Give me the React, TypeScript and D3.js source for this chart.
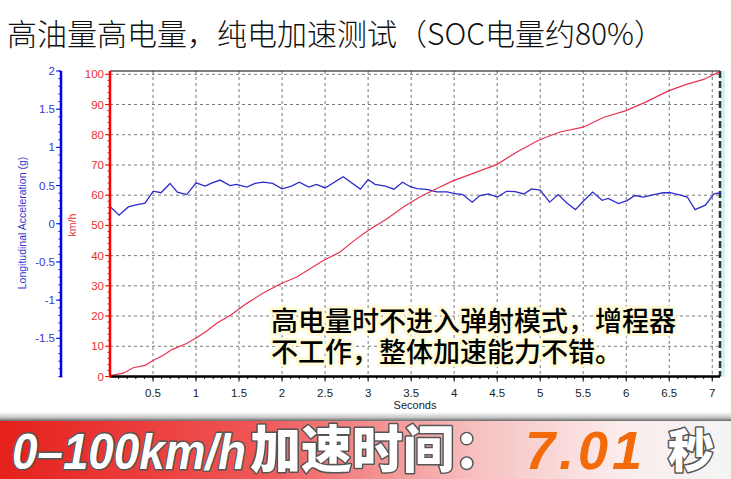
import React from "react";
import * as d3 from "d3";

const speedT = [0, 0.155, 0.27, 0.41, 0.5, 0.62, 0.72, 0.89, 1.01, 1.12, 1.24, 1.4, 1.59, 1.78, 1.98, 2.17, 2.48, 2.67, 2.83, 3.0, 3.22, 3.41, 3.6, 3.8, 3.99, 4.19, 4.5, 4.73, 4.98, 5.23, 5.5, 5.74, 5.99, 6.22, 6.49, 6.69, 6.9, 7.08];
const speedV = [0.3, 1.1, 2.9, 3.7, 5.3, 7.0, 8.9, 10.9, 12.9, 15, 17.6, 20.3, 24.2, 27.6, 30.6, 32.9, 38.4, 41.1, 44.8, 48.3, 52.2, 56.1, 59.4, 62.2, 64.8, 66.9, 70.2, 74.3, 78.2, 80.9, 82.5, 85.8, 87.9, 90.7, 94.5, 96.6, 98.3, 100.8];

const accT = [0, 0.105, 0.213, 0.29, 0.407, 0.503, 0.593, 0.698, 0.783, 0.892, 1.0, 1.105, 1.18, 1.28, 1.395, 1.47, 1.59, 1.686, 1.78, 1.89, 2.0, 2.11, 2.2, 2.31, 2.4, 2.5, 2.71, 2.91, 3.0, 3.08, 3.2, 3.3, 3.4, 3.49, 3.57, 3.68, 3.8, 3.92, 3.99, 4.1, 4.21, 4.3, 4.4, 4.5, 4.61, 4.71, 4.81, 4.9, 5.0, 5.11, 5.21, 5.31, 5.41, 5.5, 5.61, 5.72, 5.79, 5.91, 6.01, 6.1, 6.2, 6.32, 6.43, 6.51, 6.63, 6.71, 6.8, 6.92, 7.02, 7.1];
const accV = [0.227, 0.113, 0.22, 0.243, 0.271, 0.426, 0.406, 0.528, 0.414, 0.382, 0.536, 0.493, 0.532, 0.572, 0.5, 0.516, 0.481, 0.528, 0.544, 0.528, 0.457, 0.493, 0.544, 0.481, 0.516, 0.469, 0.615, 0.453, 0.579, 0.516, 0.493, 0.453, 0.544, 0.485, 0.461, 0.449, 0.418, 0.418, 0.398, 0.382, 0.283, 0.37, 0.39, 0.35, 0.425, 0.421, 0.39, 0.457, 0.441, 0.283, 0.382, 0.271, 0.185, 0.295, 0.414, 0.307, 0.331, 0.264, 0.303, 0.37, 0.35, 0.382, 0.406, 0.406, 0.374, 0.35, 0.185, 0.244, 0.39, 0.406];

const xTicks = [0.5, 1, 1.5, 2, 2.5, 3, 3.5, 4, 4.5, 5, 5.5, 6, 6.5, 7];
const xTickLabels = ["0.5", "1", "1.5", "2", "2.5", "3", "3.5", "4", "4.5", "5", "5.5", "6", "6.5", "7"];
const speedTicks = [0, 10, 20, 30, 40, 50, 60, 70, 80, 90, 100];
const accTicks = [-1.5, -1, -0.5, 0, 0.5, 1, 1.5, 2];

const titleText = "高油量高电量，纯电加速测试（SOC电量约80%）";
const noteLine1 = "高电量时不进入弹射模式，增程器";
const noteLine2 = "不工作，整体加速能力不错。";
const bannerA1 = "0–100km/h";
const bannerA2 = "加速时间：";
const bannerB = "7.01";
const bannerC = "秒";

export default function App() {
  const L = 110, R = 720, T = 71, B = 376.5;
  const x = d3.scaleLinear().domain([0, 7.09]).range([L, R]);
  const yS = d3.scaleLinear().domain([0, 100]).range([B, 74.3]);
  const yA = d3.scaleLinear().domain([-2, 2]).range([B, T]);

  const speedLine = d3.line<number>().x((_, i) => x(speedT[i])).y((d) => yS(d))(speedV) || "";
  const accLine = d3.line<number>().x((_, i) => x(accT[i])).y((d) => yA(d))(accV) || "";

  const xMinor = d3.range(1, 71).map((i) => i / 10);
  const sMinor = d3.range(0, 101, 2);
  const aMinor = d3.range(-20, 21).map((i) => i / 10);

  const font = "Arial, 'Liberation Sans', sans-serif";
  const cjk = "'Noto Sans CJK SC', sans-serif";

  return (
    <svg width={731} height={479} style={{ position: "absolute", left: 0, top: 0, background: "#fff" }}>
      <defs>
        <linearGradient id="bannerGrad" x1="0" y1="0" x2="1" y2="0">
          <stop offset="0" stopColor="#e5201c" />
          <stop offset="0.35" stopColor="#ef5656" />
          <stop offset="0.65" stopColor="#f7c0c0" />
          <stop offset="0.85" stopColor="#fbecec" />
          <stop offset="1" stopColor="#f4f4f4" />
        </linearGradient>
        <linearGradient id="shadeGrad" x1="0" y1="0" x2="0" y2="1">
          <stop offset="0" stopColor="#ffffff" />
          <stop offset="0.6" stopColor="#c8c8c8" />
          <stop offset="1" stopColor="#6a6a6a" />
        </linearGradient>
      </defs>
      <rect x={0} y={0} width={731} height={479} fill="#fff" />
      <text x={7} y={45} fontFamily={cjk} fontWeight={300} fontSize={30} fill="#111">{titleText}</text>

      {/* grid */}
      {xTicks.map((t) => (
        <line key={"gx" + t} x1={x(t)} x2={x(t)} y1={T} y2={B} stroke="#777" strokeDasharray="3,3" strokeWidth={1} />
      ))}
      {speedTicks.slice(1).map((s) => (
        <line key={"gy" + s} x1={L} x2={R} y1={yS(s)} y2={yS(s)} stroke="#777" strokeDasharray="3,3" strokeWidth={1} />
      ))}
      <line x1={L} x2={R} y1={T} y2={T} stroke="#000" strokeWidth={1.2} />
      <line x1={R + 3} x2={R + 3} y1={T} y2={B} stroke="#c8f4f4" strokeWidth={4} />
      <line x1={R} x2={R} y1={T} y2={B} stroke="#333" strokeWidth={2.5} strokeDasharray="7,3" />

      {/* data */}
      <path d={accLine} fill="none" stroke="#2b2bcc" strokeWidth={1.3} />
      <path d={speedLine} fill="none" stroke="#e8334f" strokeWidth={1.2} />

      {/* x axis */}
      <line x1={L} x2={R} y1={B} y2={B} stroke="#000" strokeWidth={2.5} />
      {xMinor.map((t) => (
        <line key={"xm" + t} x1={x(t)} x2={x(t)} y1={B} y2={B + 2.5} stroke="#000" strokeWidth={1} />
      ))}
      {xTicks.map((t, i) => (
        <g key={"xt" + t}>
          <line x1={x(t)} x2={x(t)} y1={B} y2={B + 5} stroke="#000" strokeWidth={1} />
          <text x={x(t)} y={397} textAnchor="middle" fontFamily={font} fontSize={11.5} fill="#222">{xTickLabels[i]}</text>
        </g>
      ))}
      <text x={415} y={409} textAnchor="middle" fontFamily={font} fontSize={11} fill="#222">Seconds</text>

      {/* speed axis */}
      <line x1={L} x2={L} y1={T} y2={B + 1} stroke="#ff0000" strokeWidth={2.5} />
      {sMinor.map((s) => (
        <line key={"sm" + s} x1={L - 2.5} x2={L} y1={yS(s)} y2={yS(s)} stroke="#ff0000" strokeWidth={1} />
      ))}
      {speedTicks.map((s) => (
        <g key={"st" + s}>
          <line x1={L - 5} x2={L} y1={yS(s)} y2={yS(s)} stroke="#ff0000" strokeWidth={1} />
          <text x={L - 6} y={yS(s) + 4} textAnchor="end" fontFamily={font} fontSize={11.5} fill="#e83030">{s}</text>
        </g>
      ))}
      <text transform={`translate(76,225) rotate(-90)`} textAnchor="middle" fontFamily={font} fontSize={10.5} fill="#e83030">km/h</text>

      {/* acc axis */}
      <line x1={61} x2={61} y1={T} y2={B + 1} stroke="#0000ee" strokeWidth={2.5} />
      {aMinor.map((a) => (
        <line key={"am" + a} x1={58.5} x2={61} y1={yA(a)} y2={yA(a)} stroke="#0000ee" strokeWidth={1} />
      ))}
      {accTicks.map((a) => (
        <g key={"at" + a}>
          <line x1={56} x2={61} y1={yA(a)} y2={yA(a)} stroke="#0000ee" strokeWidth={1} />
          <text x={55} y={yA(a) + 4} textAnchor="end" fontFamily={font} fontSize={11.5} fill="#3636d0">{a}</text>
        </g>
      ))}
      <text transform={`translate(26,223) rotate(-90)`} textAnchor="middle" fontFamily={font} fontSize={10.5} fill="#3636d0">Longitudinal Acceleration (g)</text>

      {/* annotation */}
      <g fontFamily={cjk} fontWeight={500} fontSize={27}>
        <text x={271} y={331} fill="#000" stroke="#fffbd8" strokeWidth={6} strokeLinejoin="round" style={{ paintOrder: "stroke" }}>{noteLine1}</text>
        <text x={271} y={362} fill="#000" stroke="#fffbd8" strokeWidth={6} strokeLinejoin="round" style={{ paintOrder: "stroke" }}>{noteLine2}</text>
      </g>

      {/* banner */}
      <rect x={0} y={412} width={731} height={9} fill="url(#shadeGrad)" />
      <rect x={0} y={421} width={731} height={58} fill="url(#bannerGrad)" />
      <g fontWeight={700} fontSize={50}>
        <text x={12} y={469} fontFamily={font} fontStyle="italic" textLength={234} lengthAdjust="spacingAndGlyphs" fill="#fff" stroke="#555" strokeWidth={3} strokeLinejoin="round" style={{ paintOrder: "stroke" }}>{bannerA1}</text>
        <text x={250} y={468} fontFamily={cjk} fontWeight={900} fontSize={51} fill="#fff" stroke="#555" strokeWidth={3} strokeLinejoin="round" style={{ paintOrder: "stroke" }}>{bannerA2}</text>
        <text x={525} y={469} fontFamily={font} fontStyle="italic" fill="#f26a0a" textLength={117} fontSize={54}>{bannerB}</text>
        <text x={668} y={467} fontFamily={cjk} fontWeight={900} fontSize={46} fill="#fff" stroke="#555" strokeWidth={3} strokeLinejoin="round" style={{ paintOrder: "stroke" }}>{bannerC}</text>
      </g>
    </svg>
  );
}
